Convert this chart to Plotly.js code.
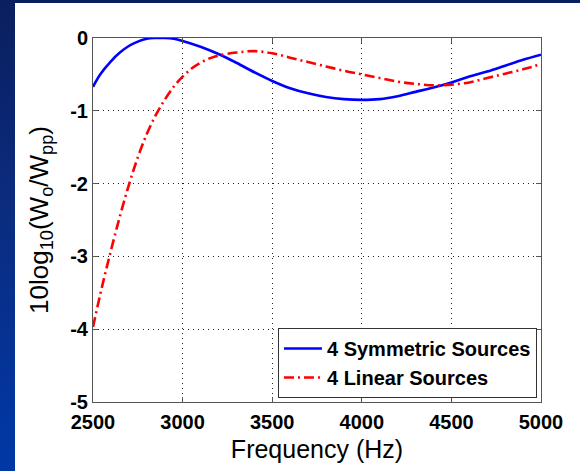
<!DOCTYPE html>
<html>
<head>
<meta charset="utf-8">
<script src="https://cdn.plot.ly/plotly-3.0.1.min.js"></script>
<style>
  html, body { margin:0; padding:0; width:580px; height:471px; overflow:hidden; }
  body { background: linear-gradient(to bottom, #0a1f5e 0%, #0b2c80 45%, #0038a6 100%); position:relative; }
  #plot { position:absolute; left:15px; top:3px; width:565px; height:468px; background:#fff; }
</style>
</head>
<body>
<div id="plot"></div>
<script>
// Frequency grid (Hz) and series values (dB)
const freqSym = [2500,2540,2600,2650,2700,2750,2800,2850,2900,2950,3000,3100,3200,3300,3400,3500,3600,3700,3800,3900,4000,4100,4200,4300,4400,4500,4600,4700,4800,4900,5000];
const symmetric = [-0.67,-0.50,-0.32,-0.20,-0.11,-0.05,-0.01,0,0,-0.01,-0.04,-0.12,-0.22,-0.34,-0.47,-0.59,-0.69,-0.76,-0.81,-0.84,-0.85,-0.84,-0.80,-0.74,-0.68,-0.61,-0.53,-0.46,-0.38,-0.30,-0.23];

const freqLin = [2500,2550,2600,2650,2700,2750,2800,2850,2900,2950,3000,3050,3100,3150,3200,3300,3400,3500,3600,3700,3800,3900,4000,4100,4200,4300,4400,4500,4600,4700,4800,4900,5000];
const linear = [-3.97,-3.42,-2.92,-2.45,-2.02,-1.64,-1.32,-1.06,-0.85,-0.67,-0.53,-0.42,-0.34,-0.28,-0.24,-0.20,-0.18,-0.21,-0.27,-0.33,-0.39,-0.45,-0.50,-0.55,-0.60,-0.63,-0.65,-0.64,-0.61,-0.55,-0.49,-0.43,-0.36];

const seriesNames = ["4 Symmetric Sources", "4 Linear Sources"];
const xTickVals = [2500,3000,3500,4000,4500,5000];
const xTickText = ["2500","3000","3500","4000","4500","5000"];
const yTickVals = [0,-1,-2,-3,-4,-5];
const yTickText = ["0","-1","-2","-3","-4","-5"];

const FONT = "Liberation Sans, Arial, sans-serif";

const traces = [
  { x: freqSym, y: symmetric, name: seriesNames[0], mode: "lines",
    line: { color: "#0000ff", width: 2.6, shape: "spline" } },
  { x: freqLin, y: linear, name: seriesNames[1], mode: "lines",
    line: { color: "#ff0000", width: 2.6, shape: "spline", dash: "10px,4px,2px,4px" } }
];

const axisCommon = {
  showline: true, linecolor: "#555", linewidth: 1, mirror: "ticks",
  ticks: "inside", ticklen: 5, tickcolor: "#555",
  showgrid: true, gridcolor: "#222", gridwidth: 1, griddash: "1px,4px",
  zeroline: false,
  tickfont: { family: FONT, size: 20, color: "#000", weight: "bold" }
};

const layout = {
  width: 565, height: 468,
  paper_bgcolor: "#fff", plot_bgcolor: "#fff",
  margin: { l: 78, r: 39, t: 35, b: 69 },
  showlegend: true,
  xaxis: Object.assign({}, axisCommon, {
    range: [2500, 5000], tickvals: xTickVals, ticktext: xTickText,
    ticklabelstandoff: 2,
    title: { text: "Frequency (Hz)", font: { family: FONT, size: 25, color: "#000" }, standoff: 8 }
  }),
  yaxis: Object.assign({}, axisCommon, {
    range: [-5, 0], tickvals: yTickVals, ticktext: yTickText,
    title: { text: "10log<sub>10</sub>(W<sub>o</sub>/W<sub>pp</sub>)", font: { family: FONT, size: 26, color: "#000" }, standoff: 14 }
  }),
  legend: {
    x: 0.991, y: 0.011, xanchor: "right", yanchor: "bottom",
    bgcolor: "#fff", bordercolor: "#333", borderwidth: 1,
    font: { family: FONT, size: 20, color: "#000", weight: "bold" },
    itemwidth: 38, tracegroupgap: 0
  }
};

Plotly.newPlot("plot", traces, layout, { displayModeBar: false, staticPlot: true });
</script>
</body>
</html>
